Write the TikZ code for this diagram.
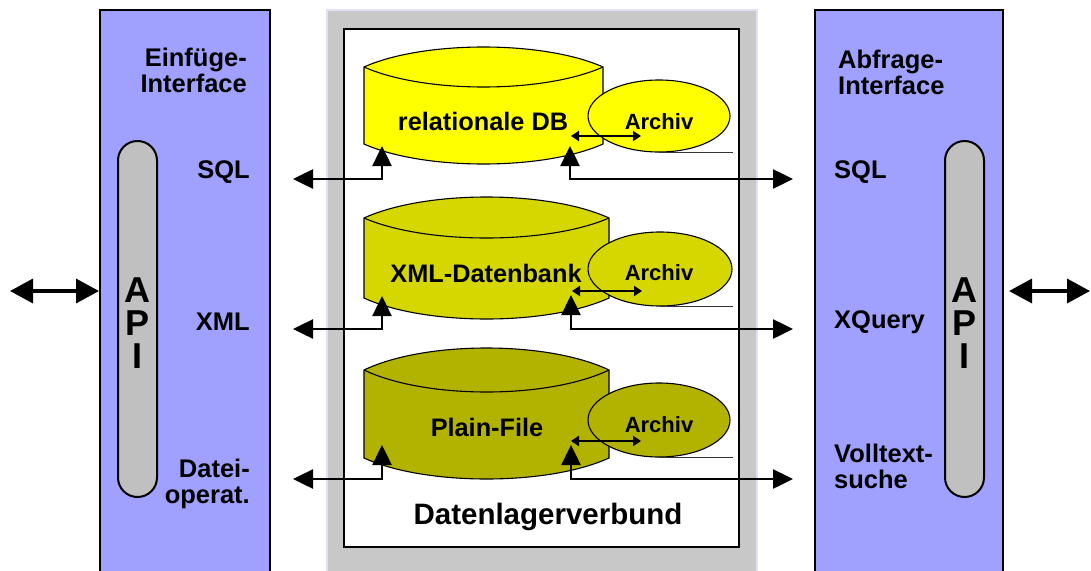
\documentclass[tikz,border=0pt]{standalone}
\usepackage{fontspec}
\setmainfont{Liberation Sans}
\usetikzlibrary{arrows.meta,shapes.geometric}
\definecolor{panelblue}{RGB}{160,160,255}
\definecolor{pillgray}{RGB}{192,192,192}
\definecolor{framegray}{RGB}{200,200,200}
\definecolor{framelav}{RGB}{224,224,248}
\definecolor{dbyellowA}{RGB}{255,255,0}
\definecolor{dbyellowB}{RGB}{214,214,0}
\definecolor{dbyellowC}{RGB}{178,178,0}
\newcommand{\dbcyl}[8]{%
  \pgfmathsetmacro\cxa{#1+(#2-#1)/4}%
  \pgfmathsetmacro\cxb{#2-(#2-#1)/4}%
  \pgfmathsetmacro\cpk{(4*#4-#3)/3}%
  \pgfmathsetmacro\cin{(4*#5-#3)/3}%
  \pgfmathsetmacro\clo{(4*#7-#6)/3}%
  \filldraw[fill=#8, cylline] (#1,#3) .. controls (\cxa,\cpk) and (\cxb,\cpk) .. (#2,#3) -- (#2,#6) .. controls (\cxb,\clo) and (\cxa,\clo) .. (#1,#6) -- cycle;
  \draw[cylline] (#1,#3) .. controls (\cxa,\cin) and (\cxb,\cin) .. (#2,#3);
}
\begin{document}
\begin{tikzpicture}[x=1pt,y=-1pt,
  panel/.style={draw=black, line width=2pt, fill=panelblue, inner sep=0pt},
  pillbox/.style={draw=black, line width=2pt, fill=pillgray, rounded corners=19.5pt, inner sep=0pt},
  grayframe/.style={draw=framelav, line width=2pt, fill=framegray, inner sep=0pt},
  innerbox/.style={draw=black, line width=2.5pt, fill=white, inner sep=0pt},
  cylline/.style={draw=black, line width=1.1pt},
  archbox/.style={ellipse, draw=black, line width=1.1pt, inner sep=0pt},
  shadowline/.style={draw=black!80, line width=0.9pt},
  lbl/.style={font=\bfseries\fontsize{25.5}{26}\selectfont, inner sep=0pt},
  dblbl/.style={font=\bfseries\fontsize{25.3}{26}\selectfont, inner sep=0pt},
  archlbl/.style={font=\bfseries\fontsize{22}{24}\selectfont, inner sep=0pt},
  apilbl/.style={font=\bfseries\fontsize{36}{33}\selectfont, inner sep=0pt, align=center},
  conn/.style={draw=black, line width=2.5pt, {Triangle[length=20pt,width=19pt]}-{Triangle[length=20pt,width=19pt]}},
  smallarr/.style={draw=black, line width=2pt, {Triangle[length=8pt,width=10pt]}-{Triangle[length=8pt,width=10pt]}},
  outerarr/.style={draw=black, line width=3.5pt, {Triangle[length=23pt,width=24pt]}-{Triangle[length=23pt,width=24pt]}}
]
\clip (0,0) rectangle (1091,570);
\fill[white] (0,0) rectangle (1091,570);

% side panels
\node[panel, minimum width=170pt, minimum height=600pt] (lp) at (185,310) {};
\node[panel, minimum width=188pt, minimum height=600pt] (rp) at (909,310) {};
\node[pillbox, minimum width=39pt, minimum height=356pt] (lpill) at (137.5,319) {};
\node[pillbox, minimum width=39pt, minimum height=356pt] (rpill) at (964.5,319) {};
\node[apilbl] (lapi) at (137.5,323) {A\\P\\I};
\node[apilbl] (rapi) at (964.5,323) {A\\P\\I};

% left labels
\node[lbl, anchor=east, align=right] (ein) at (247,70) {Einfüge-\\Interface};
\node[lbl, anchor=east] (lsql) at (250,172) {SQL};
\node[lbl, anchor=east] (lxml) at (250,322) {XML};
\node[lbl, anchor=east, align=right] (ldat) at (250,484) {Datei-\\operat.};
% right labels
\node[lbl, anchor=west, align=left] (abf) at (838,72) {Abfrage-\\Interface};
\node[lbl, anchor=west] (rsql) at (834,172) {SQL};
\node[lbl, anchor=west] (rxq) at (834,322) {XQuery};
\node[lbl, anchor=west, align=left] (rvt) at (834,466) {Volltext-\\suche};

% centre frame
\node[grayframe, minimum width=430pt, minimum height=600pt] (gf) at (542,310) {};
\node[innerbox, minimum width=395pt, minimum height=518pt] (ib) at (541.5,288) {};
\node[font=\bfseries\fontsize{29.5}{31}\selectfont, inner sep=0pt] (dlv) at (548,517) {Datenlagerverbund};

% databases
\dbcyl{364}{603}{67}{47}{87}{144}{164}{dbyellowA}
\dbcyl{364}{609}{218}{197}{238}{298}{319}{dbyellowB}
\dbcyl{364}{609}{370}{348}{392}{458}{479}{dbyellowC}
\node[dblbl] (db1) at (483,121) {relationale DB};
\node[dblbl] (db2) at (486,273) {XML-Datenbank};
\node[dblbl] (db3) at (487,427) {Plain-File};

% archives
\node[archbox, fill=dbyellowA, minimum width=142pt, minimum height=72pt] (ar1) at (659,116) {};
\node[archbox, fill=dbyellowB, minimum width=144pt, minimum height=74pt] (ar2) at (660,269) {};
\node[archbox, fill=dbyellowC, minimum width=142pt, minimum height=74pt] (ar3) at (659,420) {};
\node[archlbl] (at1) at (659,122) {Archiv};
\node[archlbl] (at2) at (659,273) {Archiv};
\node[archlbl] (at3) at (659,425) {Archiv};
\draw[shadowline] (ar1.south) -- +(74,0);
\draw[shadowline] (ar2.south) -- +(73,0);
\draw[shadowline] (ar3.south) -- +(74,0);

% small archive arrows
\coordinate (sa1) at (571,136); \coordinate (sb1) at (641,136);
\coordinate (sa2) at (572,291); \coordinate (sb2) at (642,291);
\coordinate (sa3) at (571,441); \coordinate (sb3) at (641,441);
\draw[smallarr] (sa1) -- (sb1);
\draw[smallarr] (sa2) -- (sb2);
\draw[smallarr] (sa3) -- (sb3);

% connector end points
\coordinate (dl1) at (382,146); \coordinate (dr1) at (570,146);
\coordinate (dl2) at (382,296); \coordinate (dr2) at (571,295);
\coordinate (dl3) at (382,445); \coordinate (dr3) at (571,445);
\coordinate (el1) at (293,179); \coordinate (er1) at (793,179);
\coordinate (el2) at (293,329); \coordinate (er2) at (793,329);
\coordinate (el3) at (293,479); \coordinate (er3) at (793,479);
\draw[conn] (dl1) |- (el1);
\draw[conn] (dr1) |- (er1);
\draw[conn] (dl2) |- (el2);
\draw[conn] (dr2) |- (er2);
\draw[conn] (dl3) |- (el3);
\draw[conn] (dr3) |- (er3);

% outer API arrows
\coordinate (ol) at (10,291);
\coordinate (or) at (1090,291);
\draw[outerarr] (ol) -- (lp.west |- ol);
\draw[outerarr] (rp.east |- or) ++(5,0) -- (or);
\end{tikzpicture}
\end{document}
